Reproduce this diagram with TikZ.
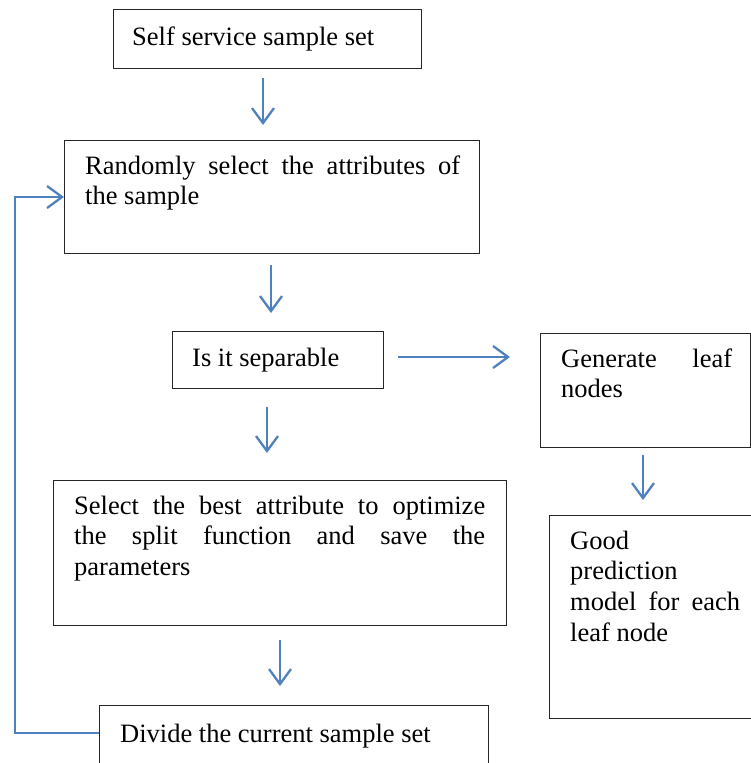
\documentclass[tikz,border=0pt]{standalone}
\usepackage{fontspec}
\setmainfont{Liberation Serif}
\usetikzlibrary{arrows.meta}
\definecolor{arrblue}{RGB}{79,129,189}
\begin{document}
\begin{tikzpicture}[x=1pt,y=-1pt,
 box/.style={draw=black!85, line width=1.3pt, inner sep=0pt, anchor=north west},
 txt/.style={anchor=base west, inner sep=0pt, align=justify, font=\fontsize{26.5}{30.8}\selectfont},
 arr/.style={draw=arrblue, line width=2.3pt, -{Straight Barb[length=15pt,width=22pt,line width=2.3pt]}}]
\useasboundingbox (0,0) rectangle (751,763);
\clip (0,0) rectangle (751,763);
% boxes
\node[box, minimum width=308pt, minimum height=59pt] (b1) at (113,9) {};
\node[box, minimum width=415pt, minimum height=113pt] (b2) at (64,140) {};
\node[box, minimum width=211pt, minimum height=57pt] (b3) at (172,331) {};
\node[box, minimum width=210pt, minimum height=114pt] (b4) at (540,333) {};
\node[box, minimum width=212pt, minimum height=203pt] (b5) at (549,515) {};
\node[box, minimum width=453pt, minimum height=145pt] (b6) at (53,480) {};
\node[box, minimum width=389pt, minimum height=80pt] (b7) at (99,705) {};
% texts
\node[txt] (t1) at (132,45) {Self service sample set};
\node[txt, text width=375pt] (t2) at (85,174) {Randomly select the attributes of\linebreak the sample};
\node[txt] (t3) at (192,366) {Is it separable};
\node[txt, text width=171pt] (t4) at (561,367) {Generate leaf\linebreak nodes};
\node[txt, text width=170pt] (t5) at (570,549) {Good\newline prediction\newline model for each\linebreak leaf node};
\node[txt, text width=411pt] (t6) at (74,514) {Select the best attribute to optimize\linebreak the split function and save the\linebreak parameters};
\node[txt] (t7) at (120,742) {Divide the current sample set};
% connector end points
\coordinate (a1s) at (263,78);  \coordinate (a1e) at (263,125);
\coordinate (a2s) at (271,265); \coordinate (a2e) at (271,313);
\coordinate (a3s) at (267,407); \coordinate (a3e) at (267,453);
\coordinate (a4s) at (280,640); \coordinate (a4e) at (280,686);
\coordinate (a5s) at (643,455); \coordinate (a5e) at (643,500);
\coordinate (ahs) at (398,357); \coordinate (ahe) at (510,357);
\coordinate (loopstart) at (99,733);
\coordinate (loopend) at (64,197);
% connectors
\draw[arr] (a1s) -- (a1e);
\draw[arr] (a2s) -- (a2e);
\draw[arr] (a3s) -- (a3e);
\draw[arr] (a4s) -- (a4e);
\draw[arr] (a5s) -- (a5e);
\draw[arr] (ahs) -- (ahe);
\draw[arr] (loopstart) -- ++(-84,0) |- (loopend);
\end{tikzpicture}
\end{document}
